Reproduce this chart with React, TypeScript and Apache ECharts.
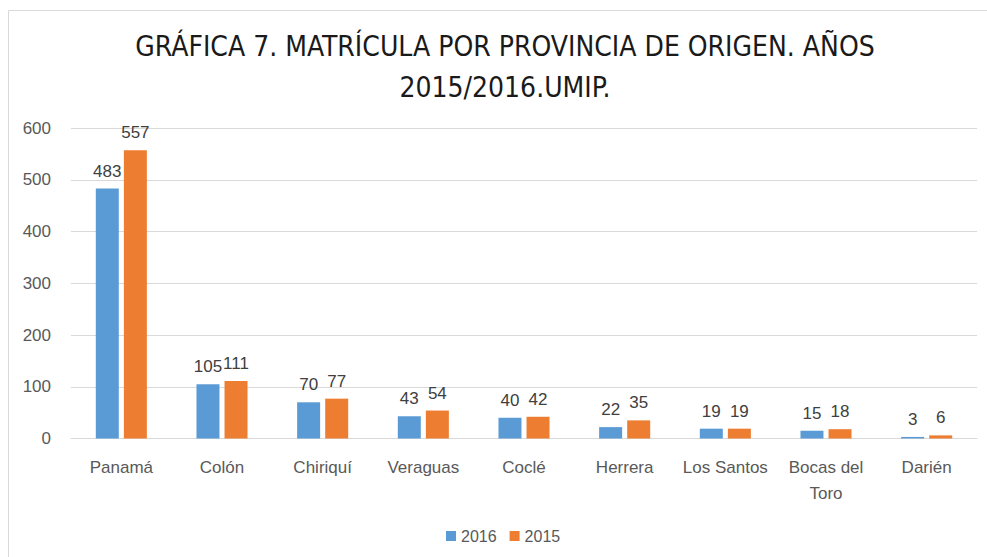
import React, { useEffect, useRef } from "react";
import * as echarts from "echarts";

const categories = ["Panamá", "Colón", "Chiriquí", "Veraguas", "Coclé", "Herrera", "Los Santos", "Bocas del\nToro", "Darién"];
const series2016 = [483, 105, 70, 43, 40, 22, 19, 15, 3];
const series2015 = [557, 111, 77, 54, 42, 35, 19, 18, 6];
const yTicks = { min: 0, max: 600, interval: 100 };
const titleText = "GRÁFICA 7. MATRÍCULA POR PROVINCIA DE ORIGEN. AÑOS\n2015/2016.UMIP.";

const FONT = "'Liberation Sans Narrow', 'DejaVu Sans Condensed', 'Liberation Sans', sans-serif";
const LFONT = "'Liberation Sans', 'Noto Sans', sans-serif";

export default function App() {
  const ref = useRef<HTMLDivElement>(null);
  useEffect(() => {
    if (!ref.current) return;
    const chart = echarts.init(ref.current, undefined, { renderer: "svg" });
    const labelStyle = {
      show: true,
      position: "top",
      distance: 9,
      color: "#404040",
      fontSize: 17,
      fontFamily: LFONT,
    };
    chart.setOption({
      animation: false,
      backgroundColor: "#ffffff",
      graphic: [
        {
          type: "rect",
          shape: { x: 8.5, y: 10.5, width: 1100, height: 700 },
          style: { fill: "none", stroke: "#D9D9D9", lineWidth: 1 },
          silent: true,
        },
        {
          type: "text",
          x: 505,
          y: 26,
          style: {
            text: titleText,
            fontFamily: FONT,
            fontSize: 28,
            lineHeight: 41,
            fill: "#1a1a1a",
            textAlign: "center",
            textVerticalAlign: "top",
          },
        },
      ],
      legend: {
        data: ["2016", "2015"],
        left: 441,
        top: 523,
        icon: "rect",
        itemWidth: 10,
        itemHeight: 10,
        itemGap: 13,
        textStyle: { color: "#595959", fontSize: 16, fontFamily: LFONT },
      },
      grid: { left: 71, right: 10, top: 128, bottom: 118.5, containLabel: false },
      xAxis: {
        type: "category",
        data: categories,
        axisLine: { lineStyle: { color: "#D9D9D9", width: 1 } },
        axisTick: { show: false },
        axisLabel: {
          color: "#595959",
          fontSize: 17,
          fontFamily: LFONT,
          margin: 16,
          lineHeight: 26,
          interval: 0,
        },
      },
      yAxis: {
        type: "value",
        min: yTicks.min,
        max: yTicks.max,
        interval: yTicks.interval,
        axisLine: { show: false },
        axisTick: { show: false },
        splitLine: { lineStyle: { color: "#D9D9D9", width: 1 } },
        axisLabel: { color: "#595959", fontSize: 17, fontFamily: LFONT, margin: 20 },
      },
      series: [
        {
          name: "2016",
          type: "bar",
          data: series2016,
          barWidth: 23,
          barGap: "22%",
          itemStyle: { color: "#5B9BD5" },
          label: labelStyle,
        },
        {
          name: "2015",
          type: "bar",
          data: series2015,
          barWidth: 23,
          itemStyle: { color: "#ED7D31" },
          label: labelStyle,
        },
      ],
    });
    return () => chart.dispose();
  }, []);
  return <div ref={ref} style={{ width: 987, height: 557, position: "absolute", left: 0, top: 0 }} />;
}
